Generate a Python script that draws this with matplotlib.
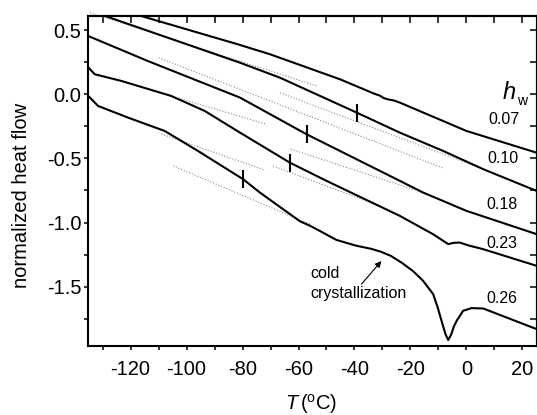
import matplotlib
matplotlib.use("Agg")
import matplotlib.pyplot as plt
import numpy as np

plt.rcParams['font.family'] = ['Liberation Sans', 'DejaVu Sans']
plt.rcParams['mathtext.fontset'] = 'custom'
plt.rcParams['mathtext.rm'] = 'Liberation Sans'
plt.rcParams['mathtext.it'] = 'Liberation Sans:italic'
plt.rcParams['axes.unicode_minus'] = False

# ---- data ----
hw_labels = ["0.07", "0.10", "0.18", "0.23", "0.26"]

t_007 = [-120, -116.2, -81.6, -70.2, -45.2, -33.0, -31.0, -29.5, -28.0, -26.0, -23.8, 0.0, 25.0]
v_007 = [0.640, 0.610, 0.389, 0.312, 0.117, 0.005, -0.010, -0.030, -0.040, -0.048, -0.065, -0.286, -0.455]

t_010 = [-132.0, -128.0, -80.9, -66.6, -39.2, -23.8, -8.3, 6.0, 25.0]
v_010 = [0.632, 0.602, 0.246, 0.129, -0.143, -0.299, -0.442, -0.584, -0.753]

t_018 = [-135.1, -113.8, -80.9, -69.0, -57.1, -23.8, -15.5, 0.0, 25.0]
v_018 = [0.454, 0.259, -0.026, -0.169, -0.312, -0.675, -0.766, -0.909, -1.090]

t_023 = [-135.1, -132.8, -123.3, -105.5, -93.5, -80.9, -63.1, -50.0, -23.8, -12.0,
         -8.5, -6.5, -4.5, -2.4, 1.0, 5.9, 25.0]
v_023 = [0.210, 0.156, 0.104, -0.013, -0.130, -0.299, -0.533, -0.675, -0.948, -1.090,
         -1.140, -1.168, -1.158, -1.156, -1.180, -1.207, -1.337]

t_026 = [-135.1, -131.6, -120.9, -107.8, -95.9, -79.8, -73.8, -59.5, -55.9, -52.0, -46.5,
         -39.5, -34.0, -30.5, -27.0, -23.0, -19.0, -15.5, -11.9, -10.3, -8.9, -7.5, -6.5,
         -5.4, -4.5, -3.5, -1.2, 1.8, 6.0, 14.3, 25.0]
v_026 = [-0.013, -0.091, -0.182, -0.286, -0.442, -0.662, -0.766, -0.990, -1.025, -1.070, -1.135,
         -1.180, -1.205, -1.228, -1.260, -1.315, -1.380, -1.454, -1.558, -1.660, -1.766, -1.870, -1.916,
         -1.870, -1.810, -1.766, -1.688, -1.667, -1.670, -1.740, -1.830]

# glass transition marks
tg_T = [-39.2, -57.1, -63.1, -79.8]
tg_v = [-0.143, -0.312, -0.533, -0.662]

# tangent (construction) lines: (T0, v0, T1, v1)
tan_lines = [
    (-134.5, 0.636, -53.5, 0.065),     # 0.10 low-T
    (-66.6, 0.012, 6.0, -0.584),       # 0.10 high-T
    (-110.0, 0.285, -8.2, -0.577),     # 0.18 low-T
    (-62.7, -0.428, -15.5, -0.766),    # 0.18 high-T
    (-106.0, -0.010, -71.4, -0.234),   # 0.23 low-T
    (-69.1, -0.559, -31.1, -0.870),    # 0.23 high-T
    (-109.0, -0.310, -71.9, -0.592),   # 0.26 low-T
    (-104.8, -0.558, -55.9, -1.012),   # 0.26 high-T
]

# label positions (data coords)
lab_T = [13.5, 13.2, 12.8, 12.8, 12.8]
lab_v = [-0.200, -0.500, -0.862, -1.162, -1.590]

# ---- figure ----
fig = plt.figure(figsize=(5.37, 4.15), dpi=100)
ax = fig.add_axes([0.1644, 0.167, 0.8356, 0.7944])

for (a, b, c, d) in tan_lines:
    ax.plot([a, c], [b, d], linestyle=(0, (1, 1.6)), color='#8a8a8a', lw=0.8, clip_on=False, zorder=1)

for t, v in [(t_007, v_007), (t_010, v_010), (t_018, v_018), (t_023, v_023), (t_026, v_026)]:
    ax.plot(t, v, color='black', lw=1.5, zorder=3, solid_joinstyle='round')

ax.plot(tg_T, tg_v, linestyle='none', marker='|', markersize=13, mew=1.5, color='black', zorder=4)

for lab, x, y in zip(hw_labels, lab_T, lab_v):
    ax.text(x, y, lab, fontsize=11.5, ha='center', va='center')

ax.text(12.8, -0.037, r'$h$', fontsize=17, ha='left', va='baseline')
ax.text(18.2, -0.085, 'w', fontsize=10, ha='left', va='baseline')

ax.text(-55.9, -1.40, 'cold', fontsize=11.5, ha='left', va='center')
ax.text(-55.9, -1.555, 'crystallization', fontsize=11.5, ha='left', va='center')
ax.annotate('', xy=(-30.4, -1.30), xytext=(-37.5, -1.48),
            arrowprops=dict(arrowstyle='-|>', lw=0.8, color='black', mutation_scale=9,
                            shrinkA=0, shrinkB=0))

ax.set_xlim(-135.1, 25.2)
ax.set_ylim(-1.96, 0.61)

ax.set_xticks(np.arange(-120, 21, 20))
ax.set_xticks(np.arange(-130, 21, 10), minor=True)
ax.set_yticks(np.arange(-1.5, 0.51, 0.5))
ax.set_yticks(np.arange(-1.75, 0.51, 0.25), minor=True)
ax.set_yticklabels(['-1.5', '-1.0', '-0.5', '0.0', '0.5'])

ax.tick_params(which='both', direction='out', length=3.0, width=1.1, labelsize=14.5,
               top=False, right=False)
ax.tick_params(axis='x', pad=7)
ax.tick_params(axis='y', pad=2)
for s in ax.spines.values():
    s.set_linewidth(1.5)

secx = ax.secondary_xaxis('top')
secx.set_xticks(np.arange(-130, 21, 10))
secx.tick_params(direction='in', length=5, width=1.1, labelsize=0, labeltop=False)
secx.spines['top'].set_linewidth(1.5)
secy = ax.secondary_yaxis('right')
secy.set_yticks(np.arange(-1.75, 0.51, 0.25))
secy.tick_params(direction='in', length=5, width=1.1, labelright=False)
secy.spines['right'].set_linewidth(1.5)

fig.text(21.5 / 537, 1 - 195 / 415, 'normalized heat flow', rotation=90,
         ha='center', va='center', fontsize=14.5)
fig.text(311.5 / 537, 1 - 404 / 415, r'$\mathit{T}\,$($^{\mathrm{o}}$C)',
         ha='center', va='center', fontsize=14.5)

fig.savefig('out.png', dpi=100)
